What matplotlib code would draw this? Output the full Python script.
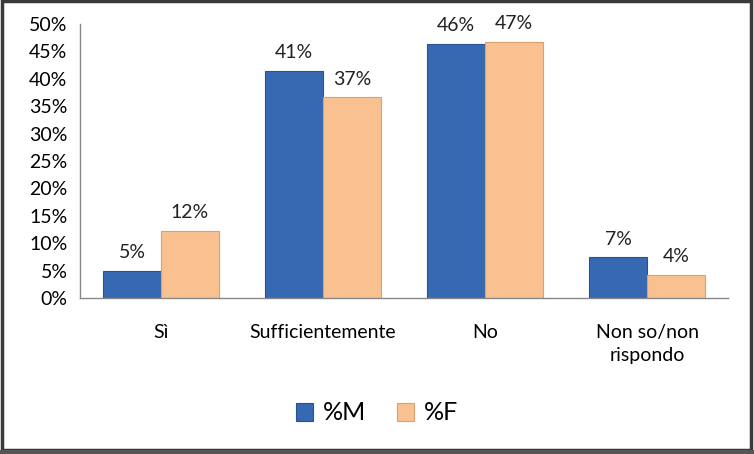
import matplotlib
matplotlib.use("Agg")
import matplotlib.pyplot as plt
import numpy as np
from matplotlib.patches import Rectangle

categories = ["Sì", "Sufficientemente", "No", "Non so/non\nrispondo"]
values_m = [4.9, 41.4, 46.4, 7.4]
values_f = [12.2, 36.6, 46.8, 4.2]
series_names = ["%M", "%F"]
yticks = [0, 5, 10, 15, 20, 25, 30, 35, 40, 45, 50]

plt.rcParams['font.family'] = ['Lato', 'DejaVu Sans']

fig = plt.figure(figsize=(7.54, 4.54), dpi=100)
ax = fig.add_axes([80/754, 1-298/454, 648/754, 274/454])

x = np.arange(len(categories))
w = 0.357
blue = "#3769B3"
orange = "#F9C18F"
b1 = ax.bar(x - w/2, values_m, w, color=blue, edgecolor="#2A5290", linewidth=0.8, label=series_names[0])
b2 = ax.bar(x + w/2, values_f, w, color=orange, edgecolor="#D9A070", linewidth=0.8, label=series_names[1])

for bars, vals in ((b1, values_m), (b2, values_f)):
    for rect, v in zip(bars, vals):
        ax.annotate(f"{round(v)}%", (rect.get_x() + rect.get_width()/2, rect.get_height()),
                    xytext=(0, 7), textcoords="offset points", ha="center", va="bottom",
                    fontsize=14, color="#222222")

ax.set_xlim(-0.5, len(categories) - 0.5)
ax.set_ylim(0, 50)
ax.set_yticks(yticks)
ax.set_yticklabels([f"{t}%" for t in yticks], fontsize=14)
ax.set_xticks(x)
ax.set_xticklabels(categories, fontsize=14, linespacing=1.4)
ax.tick_params(axis="y", length=0, pad=9)
ax.tick_params(axis="x", length=0, pad=19)
for s in ("top", "right"):
    ax.spines[s].set_visible(False)
for s in ("left", "bottom"):
    ax.spines[s].set_color("#888888")
    ax.spines[s].set_linewidth(1)

leg = fig.legend(loc="center", bbox_to_anchor=(377/754, 1-413/454), ncol=2, frameon=False,
                 fontsize=18, handlelength=0.7, handleheight=0.7, columnspacing=1.2, handletextpad=0.4)

# figure border with shadow
fig.patches.append(Rectangle((0.002, 0.008), 0.994, 0.99, transform=fig.transFigure,
                             fill=False, edgecolor="#3a3a3a", linewidth=2.5))
fig.patches.append(Rectangle((0.0, 0.0), 1.0, 0.008, transform=fig.transFigure,
                             facecolor="#555555", edgecolor="none"))

fig.savefig("out.png", dpi=100)
